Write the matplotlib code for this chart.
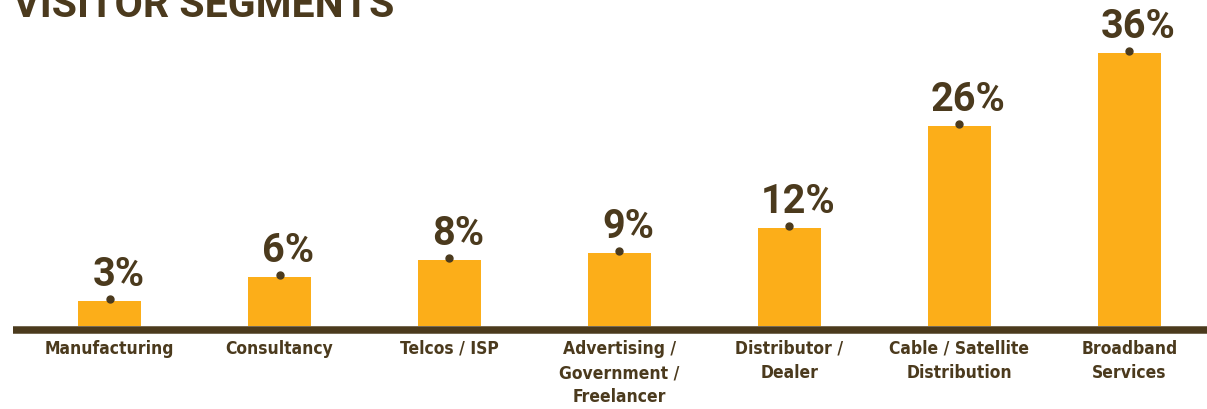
import matplotlib
matplotlib.use("Agg")
import matplotlib.pyplot as plt
import matplotlib.transforms as mtransforms

# data
categories = ["Manufacturing", "Consultancy", "Telcos / ISP",
              "Advertising /\nGovernment /\nFreelancer", "Distributor /\nDealer",
              "Cable / Satellite\nDistribution", "Broadband\nServices"]
bar_values = [3.2, 6.4, 8.7, 9.6, 12.9, 26.4, 36.0]
value_labels = ["3%", "6%", "8%", "9%", "12%", "26%", "36%"]

ORANGE = "#FCAE19"
BROWN = "#4B3A1D"
W, H = 1207, 409

fig = plt.figure(figsize=(W / 100, H / 100), dpi=100, facecolor="white")
ax = fig.add_axes([0, 83.3 / H, 1, 1 - 83.3 / H])
ax.set_facecolor("none")

x = list(range(len(categories)))
ax.bar(x, bar_values, width=63 / 170, color=ORANGE, zorder=2)

# small dots on top of each bar
dot_tr = mtransforms.offset_copy(ax.transData, fig, y=2, units="dots")
ax.plot(x, bar_values, "o", color=BROWN, markersize=5, transform=dot_tr,
        clip_on=False, zorder=3)

# percentage labels
lab_tr = mtransforms.offset_copy(ax.transData, fig, x=9, y=15, units="dots")
for xi, v, lab in zip(x, bar_values, value_labels):
    ax.text(xi, v, lab, transform=lab_tr, ha="center", va="baseline",
            fontsize=28.5, fontweight="bold", family=["Roboto", "DejaVu Sans"],
            color=BROWN)

# category labels under the baseline
cat_tr = mtransforms.offset_copy(ax.transData, fig, y=-14, units="dots")
for xi, c in zip(x, categories):
    ax.text(xi, 0, c, transform=cat_tr, ha="center", va="top",
            fontsize=12.5, fontweight="bold", fontstretch="condensed",
            linespacing=1.45, family="DejaVu Sans", color=BROWN)

ax.set_xlim(-109.5 / 170, (W - 109.5) / 170)
ax.set_ylim(0, 43.0)
ax.axis("off")

# thick baseline
fig.add_artist(plt.Line2D([13 / W, 1], [(H - 329.5) / H] * 2, color=BROWN,
                          linewidth=5.4, solid_capstyle="butt"))

fig.text(13 / W, (H - 17.3) / H, "VISITOR SEGMENTS", ha="left", va="baseline",
         fontsize=29.5, fontweight="bold", family=["Roboto", "DejaVu Sans"],
         color=BROWN)

fig.savefig("out.png", dpi=100, facecolor="white")
